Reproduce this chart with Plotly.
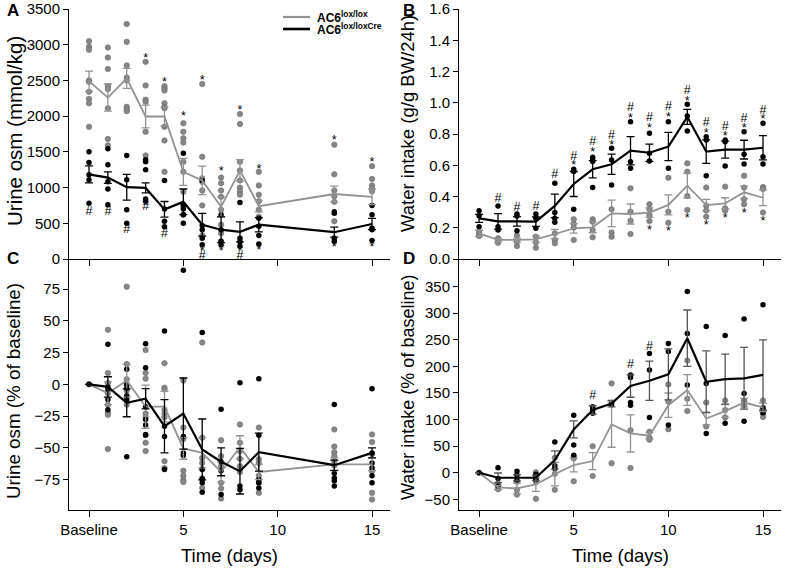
import plotly.graph_objects as go

# ---------------- data ----------------
DAYS_AC = [0, 1, 2, 3, 4, 5, 6, 7, 8, 9, 13, 15]
DAYS_BD = list(range(16))
X_TICK_VALS = [0, 5, 10, 15]
X_TICK_TEXT = ["Baseline", "5", "10", "15"]
SERIES = ["AC6<sup>lox/lox</sup>", "AC6<sup>lox/loxCre</sup>"]

# Panel A: Urine osm (mmol/kg)
A_WT_MEAN = [2490, 2260, 2530, 1995, 1995, 1220, 1100, 730, 1240, 740, 910, 870]
A_WT_SE = [140, 190, 140, 160, 130, 190, 200, 140, 150, 80, 110, 110]
A_KO_MEAN = [1185, 1140, 1005, 995, 695, 800, 480, 410, 380, 480, 375, 490]
A_KO_SE = [120, 80, 180, 70, 110, 180, 160, 180, 140, 100, 70, 80]
A_WT_PTS = [
    [3050, 2970, 2930, 2500, 2480, 2340, 2240, 2180, 1850],
    [2960, 2820, 2660, 2420, 2380, 2110, 1680, 1590],
    [3290, 3040, 2710, 2540, 2500, 2130, 2100, 2070],
    [2760, 2430, 2230, 2200, 1780, 1450],
    [2420, 2390, 2360, 2180, 2130, 2110, 1850, 1660, 1220],
    [1900, 1780, 1690, 1630, 1360, 1220, 940, 740, 620],
    [2450, 1430, 1130, 1080, 960, 750, 330],
    [1140, 1060, 960, 870, 690, 480, 360, 240],
    [2030, 1890, 1360, 1240, 1100, 1000, 950, 900],
    [1220, 1030, 900, 810, 690, 590],
    [1600, 1185, 960, 880, 800, 530],
    [1300, 1120, 1030, 990, 950],
]
A_KO_PTS = [
    [1500, 1350, 1180, 1110, 780],
    [1545, 1320, 1080, 980, 760],
    [1450, 1110, 690, 500],
    [1390, 1360, 1250, 840, 810],
    [1100, 700, 530, 450],
    [1480, 760, 700, 620, 500],
    [1100, 470, 410, 290, 200],
    [620, 410, 250, 200],
    [790, 290, 240, 180],
    [570, 460, 330, 210],
    [660, 640, 290, 250],
    [750, 620, 430, 410, 260],
]
A_STAR_WT_DAYS = [3, 4, 5, 6, 7, 8, 9, 13, 15]
A_STAR_WT_Y = [2800, 2470, 1990, 2500, 1215, 2080, 1250, 1650, 1350]
A_STAR_KO_DAYS = [6, 7, 8, 9, 13, 15]
A_STAR_KO_Y = [100, 95, 105, 115, 150, 150]
A_HASH_KO_DAYS = [0, 1, 2, 3, 4, 6, 8]
A_HASH_KO_Y = [663, 663, 406, 733, 345, 42, 42]

# Panel B: Water intake (g/g BW/24h)
B_WT_MEAN = [0.164, 0.122, 0.122, 0.126, 0.16, 0.196, 0.203, 0.292, 0.288, 0.297,
             0.346, 0.469, 0.345, 0.356, 0.427, 0.392]
B_WT_SE = [0.02, 0.012, 0.012, 0.02, 0.03, 0.03, 0.035, 0.085, 0.064, 0.03,
           0.064, 0.079, 0.037, 0.036, 0.04, 0.05]
B_KO_MEAN = [0.26, 0.241, 0.241, 0.239, 0.34, 0.48, 0.574, 0.606, 0.693, 0.68,
             0.72, 0.91, 0.687, 0.70, 0.70, 0.712]
B_KO_SE = [0.025, 0.05, 0.03, 0.03, 0.075, 0.08, 0.055, 0.065, 0.09, 0.055,
           0.09, 0.048, 0.075, 0.055, 0.06, 0.077]
B_WT_PTS = [
    [0.175, 0.16, 0.147], [0.132, 0.122, 0.104], [0.15, 0.111, 0.083],
    [0.143, 0.107, 0.072], [0.164, 0.122, 0.1], [0.254, 0.224, 0.2, 0.122],
    [0.254, 0.238, 0.186, 0.139], [0.318, 0.17, 0.143],
    [0.452, 0.303, 0.245, 0.16], [0.35, 0.318, 0.28, 0.243],
    [0.52, 0.303, 0.232], [0.612, 0.559, 0.403, 0.314],
    [0.457, 0.341, 0.31, 0.271], [0.463, 0.324, 0.31],
    [0.533, 0.457, 0.382, 0.35], [0.46, 0.448, 0.297],
]
B_KO_PTS = [
    [0.309, 0.277, 0.207], [0.339, 0.207, 0.186], [0.288, 0.275, 0.181],
    [0.288, 0.26, 0.196], [0.484, 0.297, 0.26, 0.235], [0.574, 0.56, 0.318],
    [0.651, 0.634, 0.624, 0.457], [0.708, 0.634, 0.474], [0.879, 0.623, 0.58],
    [0.804, 0.676, 0.627], [0.879, 0.58], [0.99, 0.915, 0.819],
    [0.783, 0.762, 0.533], [0.762, 0.75, 0.595], [0.815, 0.67, 0.608],
    [0.868, 0.655, 0.608],
]
B_HASH_KO_DAYS = list(range(1, 16))
B_HASH_KO_Y = [0.382, 0.324, 0.335, 0.538, 0.655, 0.751, 0.787, 0.968, 0.90,
               0.975, 1.075, 0.872, 0.847, 0.894, 0.949]
B_STAR_KO_DAYS = list(range(5, 16))
B_STAR_KO_Y = [0.595, 0.681, 0.723, 0.894, 0.83, 0.905, 1.005, 0.802, 0.783, 0.83, 0.89]
B_STAR_WT_DAYS = list(range(9, 16))
B_STAR_WT_Y = [0.183, 0.173, 0.254, 0.211, 0.254, 0.286, 0.237]

# Panel C: Urine osm (% of baseline)
C_WT_MEAN = [0, -7, 3, -17.6, -17.6, -50.5, -54, -69, -49.5, -69, -63, -63]
C_WT_SE = [0, 9, 13, 17, 12, 8.5, 12, 8, 9, 6, 5, 5]
C_KO_MEAN = [0, -2, -14.5, -11.3, -33, -23, -51.3, -61, -68.4, -53.4, -63.7, -54]
C_KO_SE = [0, 8, 11, 8, 21, 28, 24, 11, 18, 15, 4, 4]
C_WT_PTS = [
    [0], [43, 9, 1, -7, -16, -22, -24, -51], [77, 16, 4, 0, -5, -16],
    [27, 9, 4.5, -23, -26, -46, -52.6], [16.6, -2.6, -4, -20, -23, -26, -60.5, -66],
    [3, -34, -43, -68, -72, -75.5, -77], [33, -42, -58, -62, -66.6, -74, -81.6],
    [-44, -56.6, -64.5, -77.6, -82, -90], [-31.6, -46, -52.6, -58.7, -64.5, -69],
    [-34, -59, -62, -72, -77.6, -85.5], [-35.5, -49, -53.4, -56.6, -60.5, -64],
    [-39.5, -45.5, -55, -68.4, -85.5, -90.8],
]
C_KO_PTS = [
    [0], [31.6, -2, -4.5, -12, -20], [12, 0, -3, -9, -12, -57],
    [32, 13, -17.6, -27.6, -32, -39.5, -40], [42, -33, -41, -67],
    [90, -41, -54, -56], [40.8, -67, -74.5, -77.6, -85], [-19.7, -61, -68, -86.8],
    [1.3, -80, -83], [4.5, -40, -75, -77.6, -81.6], [-15.8, -70, -73.7, -76, -80],
    [-3.4, -54, -62, -66, -72, -77.6],
]

# Panel D: Water intake (% of baseline)
D_WT_MEAN = [0, -27.6, -29.5, -22, -2.5, 14.5, 22, 91, 74, 69.7, 127, 155.6, 102, 116, 132, 123]
D_WT_SE = [0, 4, 10, 13, 22, 13, 16, 43, 35, 6, 23, 29, 12, 12, 8, 8]
D_KO_MEAN = [0, -9.4, -9.4, -9.4, 24, 81.6, 118, 130, 163, 173, 185, 253, 171, 176, 177.6, 184]
D_KO_SE = [0, 9, 6, 5, 17, 16, 8, 6, 21, 37, 48, 53, 58, 47, 58, 66]
D_WT_PTS = [
    [0], [-20, -26, -31], [-17, -32, -41], [1, -7, -17, -49], [28, -2, -32],
    [30, 27, -16], [50, -6], [168, 18], [80, 9], [77, 66, 62], [166, 134, 82],
    [211, 139, 116], [132, 87], [136, 118, 104], [136, 126, 134], [136, 112, 105],
]
D_KO_PTS = [
    [0], [9.5, -11, -25], [3, -4, -14], [-3, -11, -13], [58, 13, 8], [108, 52, 33],
    [124, 118, 112], [132, 128], [184, 179, 132, 127], [224, 193, 104],
    [243, 228, 90], [341, 262, 165], [275, 168, 74], [258, 93], [289, 149, 97],
    [316, 122, 118, 113],
]
D_HASH_KO_DAYS = [6, 8, 9]
D_HASH_KO_Y = [144, 203, 237]

# ---------------- styling ----------------
FONT = "Liberation Sans, Arial, sans-serif"
WT_PT = "#868686"
WT_LINE = "#929292"
KO = "#000000"


def flat(days, pts):
    xs, ys = [], []
    for d, vals in zip(days, pts):
        xs += [d] * len(vals)
        ys += vals
    return xs, ys


fig = go.Figure()


def add_panel(xa, ya, days, wt_pts, ko_pts, wt_mean, wt_se, ko_mean, ko_se, ko_err_color=KO):
    x, y = flat(days, wt_pts)
    fig.add_trace(go.Scatter(x=x, y=y, mode="markers", xaxis=xa, yaxis=ya, showlegend=False,
                             marker=dict(size=5.5, color=WT_PT, line=dict(width=0.6, color="#6e6e6e"))))
    x, y = flat(days, ko_pts)
    fig.add_trace(go.Scatter(x=x, y=y, mode="markers", xaxis=xa, yaxis=ya, showlegend=False,
                             marker=dict(size=5.5, color=KO)))
    fig.add_trace(go.Scatter(x=days, y=wt_mean, mode="lines", xaxis=xa, yaxis=ya, showlegend=False,
                             line=dict(color=WT_LINE, width=1.8),
                             error_y=dict(type="data", array=wt_se, color=WT_LINE, thickness=1.3, width=4)))
    fig.add_trace(go.Scatter(x=days, y=ko_mean, mode="lines", xaxis=xa, yaxis=ya, showlegend=False,
                             line=dict(color=KO, width=2.2),
                             error_y=dict(type="data", array=ko_se, color=ko_err_color, thickness=1.3, width=4)))


def add_marks(xa, ya, days, ys, symbol):
    fig.add_trace(go.Scatter(x=days, y=ys, mode="text", text=[symbol] * len(days), xaxis=xa, yaxis=ya,
                             showlegend=False, textfont=dict(family=FONT, size=12.5, color="#000000")))


add_panel("x", "y", DAYS_AC, A_WT_PTS, A_KO_PTS, A_WT_MEAN, A_WT_SE, A_KO_MEAN, A_KO_SE)
add_marks("x", "y", A_STAR_WT_DAYS, A_STAR_WT_Y, "*")
add_marks("x", "y", A_STAR_KO_DAYS, A_STAR_KO_Y, "*")
add_marks("x", "y", A_HASH_KO_DAYS, A_HASH_KO_Y, "#")

add_panel("x2", "y2", DAYS_BD, B_WT_PTS, B_KO_PTS, B_WT_MEAN, B_WT_SE, B_KO_MEAN, B_KO_SE)
add_marks("x2", "y2", B_HASH_KO_DAYS, B_HASH_KO_Y, "#")
add_marks("x2", "y2", B_STAR_KO_DAYS, B_STAR_KO_Y, "*")
add_marks("x2", "y2", B_STAR_WT_DAYS, B_STAR_WT_Y, "*")

add_panel("x3", "y3", DAYS_AC, C_WT_PTS, C_KO_PTS, C_WT_MEAN, C_WT_SE, C_KO_MEAN, C_KO_SE)

add_panel("x4", "y4", DAYS_BD, D_WT_PTS, D_KO_PTS, D_WT_MEAN, D_WT_SE, D_KO_MEAN, D_KO_SE,
          ko_err_color="#555555")
add_marks("x4", "y4", D_HASH_KO_DAYS, D_HASH_KO_Y, "#")

# ---------------- layout ----------------
XL = [0, 0.4508]
XR = [0.5478, 1]
YT = [0.501, 1]
YB = [0, 0.499]
XRANGE = [-1.06, 15.95]

axis_common = dict(showline=True, linecolor="#000", linewidth=1, ticks="outside", tickcolor="#000",
                   tickwidth=1, showgrid=False, zeroline=False, automargin=False,
                   tickfont=dict(family=FONT, size=15, color="#000"))


def xax(domain, anchor, labels):
    return dict(axis_common, domain=domain, anchor=anchor, range=XRANGE, tickvals=X_TICK_VALS,
                ticktext=X_TICK_TEXT, showticklabels=labels, ticklen=6)


def yax(domain, anchor, rng, **kw):
    return dict(axis_common, domain=domain, anchor=anchor, range=rng, ticklen=5, **kw)


def px_x(p):
    return (p - 69) / 712.0


def px_y(p):
    return (510 - p) / 501.0


annotations = []
for letter, px, py in [("A", 13, 10), ("B", 409, 10), ("C", 13, 258), ("D", 409, 258)]:
    annotations.append(dict(text="<b>%s</b>" % letter, x=px_x(px), y=px_y(py), xref="paper", yref="paper",
                            xanchor="center", yanchor="middle",
                            showarrow=False, font=dict(family=FONT, size=17, color="#000")))
for title, px, py, fs in [("Urine osm (mmol/kg)", 14, 131, 20.5), ("Water intake (g/g BW/24h)", 408, 124, 18.5),
                          ("Urine osm (% of baseline)", 14, 391, 18.8), ("Water intake (% of baseline)", 408, 388, 18)]:
    annotations.append(dict(text=title, x=px_x(px), y=px_y(py), xref="paper", yref="paper",
                            xanchor="center", yanchor="middle",
                            textangle=-90, showarrow=False, font=dict(family=FONT, size=fs, color="#000")))
for px in [229.5, 620]:
    annotations.append(dict(text="Time (days)", x=px_x(px), y=px_y(555), xref="paper", yref="paper",
                            xanchor="center", yanchor="middle",
                            showarrow=False, font=dict(family=FONT, size=18.5, color="#000")))

# legend (drawn as line samples + labels, tightly spaced as in the original)
shapes = []
for name, col, wid, py in [(SERIES[0], WT_LINE, 2.2, 17), (SERIES[1], KO, 2.6, 29)]:
    shapes.append(dict(type="line", xref="paper", yref="paper", x0=px_x(283), x1=px_x(310),
                       y0=px_y(py), y1=px_y(py), line=dict(color=col, width=wid)))
    annotations.append(dict(text="<b>" + name + "</b>", x=px_x(315), y=px_y(py), xref="paper", yref="paper",
                            xanchor="left", yanchor="middle", showarrow=False,
                            font=dict(family=FONT, size=12, color="#000")))

fig.update_layout(
    template="none",
    width=787, height=571, autosize=False,
    margin=dict(l=69, r=6, t=9, b=61, pad=0),
    paper_bgcolor="white", plot_bgcolor="white",
    font=dict(family=FONT, color="#000"),
    xaxis=xax(XL, "y", False),
    yaxis=yax(YT, "x", [0, 3500], dtick=500, tick0=0),
    xaxis2=xax(XR, "y2", False),
    yaxis2=yax(YT, "x2", [0, 1.6], dtick=0.2, tick0=0, tickformat=".1f"),
    xaxis3=xax(XL, "y3", True),
    yaxis3=yax(YB, "x3", [-99, 98], tickvals=[-75, -50, -25, 0, 25, 50, 75]),
    xaxis4=xax(XR, "y4", True),
    yaxis4=yax(YB, "x4", [-70, 400], tickvals=[-50, 0, 50, 100, 150, 200, 250, 300, 350]),
    showlegend=False,
    annotations=annotations,
    shapes=shapes,
)

fig.write_html("out.html", config={"displayModeBar": False},
               post_script="document.body.style.margin='0px';")
